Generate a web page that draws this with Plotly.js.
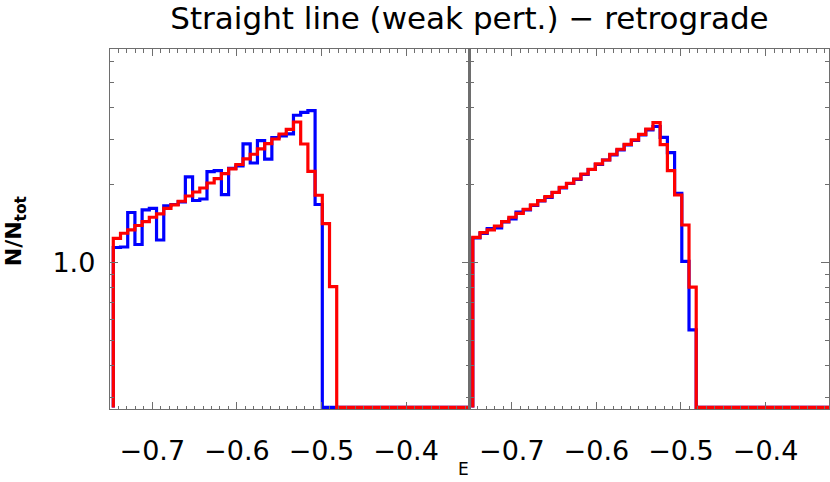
<!DOCTYPE html>
<html>
<head>
<meta charset="utf-8">
<script src="https://cdn.plot.ly/plotly-3.0.1.min.js"></script>
<style>html,body{margin:0;padding:0;background:#fff;}#chart{width:830px;height:482px;}</style>
</head>
<body>
<div id="chart"></div>
<script>
// ---- data ----
const binStart = -0.7461;   // left edge of first histogram bin (E)
const binWidth = 0.00852;   // histogram bin width (E)
const xRange = [-0.75, -0.325];
const yRangeLog = [-0.568, 0.8275]; // log10 of N/Ntot limits

const leftBlue = [1.143,1.148,1.562,1.174,1.598,1.622,1.222,1.659,1.678,1.716,2.145,1.739,1.762,2.249,2.269,1.831,2.318,2.366,2.884,2.430,2.966,2.514,3.051,3.098,3.154,3.721,3.815,3.877,1.678];
const leftRed = [1.239,1.298,1.337,1.391,1.439,1.497,1.542,1.622,1.671,1.727,1.810,1.876,1.944,2.033,2.113,2.209,2.304,2.398,2.519,2.627,2.754,2.887,3.011,3.148,3.283,3.504,2.879,2.253,1.822,1.414,0.806];
const rightBlue = [1.244,1.296,1.354,1.360,1.435,1.474,1.569,1.598,1.663,1.731,1.786,1.867,1.944,2.024,2.098,2.193,2.293,2.398,2.496,2.610,2.729,2.854,2.971,3.120,3.263,3.366,3.057,2.665,1.854,1.009,0.548];
const rightRed = [1.252,1.305,1.337,1.385,1.439,1.497,1.551,1.608,1.671,1.736,1.799,1.871,1.956,2.028,2.107,2.203,2.297,2.409,2.496,2.627,2.747,2.871,2.985,3.140,3.292,3.482,2.861,2.269,1.826,1.397,0.802];

const yTickVals = [1];
const yTickText = ['1.0'];
const yMinorVals = [0.3,0.4,0.5,0.6,0.7,0.8,0.9,2,3,4,5,6];

// ---- build step traces ----
const yBottom = Math.pow(10, yRangeLog[0] + 0.006);
function stepTrace(vals, color, xa, ya) {
  const xs = [binStart], ys = [yBottom];
  for (let i = 0; i < vals.length; i++) { xs.push(binStart + i * binWidth); ys.push(vals[i]); }
  xs.push(binStart + vals.length * binWidth); ys.push(yBottom);
  xs.push(xRange[1]); ys.push(yBottom);
  return {x: xs, y: ys, type: 'scatter', mode: 'lines', xaxis: xa, yaxis: ya,
          line: {shape: 'hv', color: color, width: 3.2}, hoverinfo: 'skip', showlegend: false};
}
const traces = [
  stepTrace(leftBlue, '#0000ff', 'x', 'y'),
  stepTrace(leftRed, '#ff0000', 'x', 'y'),
  stepTrace(rightBlue, '#0000ff', 'x2', 'y2'),
  stepTrace(rightRed, '#ff0000', 'x2', 'y2')
];

const axCol = '#6e6e6e';
const tickFont = {family: 'DejaVu Sans', size: 27, color: '#000'};
function xAxis(dom, anchor) {
  return {domain: dom, anchor: anchor, range: xRange, showgrid: false, zeroline: false,
    showline: true, mirror: 'ticks', linecolor: axCol, linewidth: 1.2,
    ticks: 'inside', ticklen: 7, tickwidth: 1, tickcolor: axCol,
    tick0: -0.7, dtick: 0.1, tickformat: '.1f', tickfont: tickFont, ticklabelstandoff: 17,
    minor: {dtick: 0.01, tick0: -0.7, ticks: 'inside', ticklen: 3.5, tickwidth: 1, tickcolor: axCol, showgrid: false}};
}
function yAxis(anchor, labels) {
  return {anchor: anchor, type: 'log', range: yRangeLog, showgrid: false, zeroline: false,
    showline: true, mirror: 'ticks', linecolor: axCol, linewidth: 1.2,
    ticks: 'inside', ticklen: 8, tickwidth: 1, tickcolor: axCol,
    tickmode: 'array', tickvals: yTickVals, ticktext: yTickText, showticklabels: labels,
    tickfont: tickFont, ticklabelstandoff: 8,
    minor: {tickmode: 'array', tickvals: yMinorVals, ticks: 'inside', ticklen: 4, tickwidth: 1, tickcolor: axCol, showgrid: false}};
}

const layout = {
  width: 830, height: 482,
  margin: {l: 110, r: 1, t: 49, b: 73},
  paper_bgcolor: '#fff', plot_bgcolor: '#fff',
  title: {text: 'Straight line (weak pert.) \u2212 retrograde',
    font: {family: 'DejaVu Sans', size: 31, color: '#000'},
    x: 0.5, xref: 'paper', xanchor: 'center', y: 0.963, yref: 'container', yanchor: 'middle'},
  xaxis: xAxis([0, 0.5], 'y'),
  xaxis2: xAxis([0.5, 1], 'y2'),
  yaxis: yAxis('x', true),
  yaxis2: yAxis('x2', false),
  annotations: [
    {text: 'E', xref: 'paper', yref: 'paper', x: 0.492, y: -0.168, xanchor: 'center', yanchor: 'middle',
     showarrow: false, font: {family: 'DejaVu Sans', size: 17, color: '#000'}},
    {text: 'N/N<sub>tot</sub>', xref: 'paper', yref: 'paper', x: -0.132, y: 0.494, xanchor: 'center', yanchor: 'middle',
     textangle: -90, showarrow: false, font: {family: 'DejaVu Sans', size: 22, weight: 'bold', color: '#000'}}
  ]
};

Plotly.newPlot('chart', traces, layout, {displayModeBar: false, staticPlot: true});
</script>
</body>
</html>
